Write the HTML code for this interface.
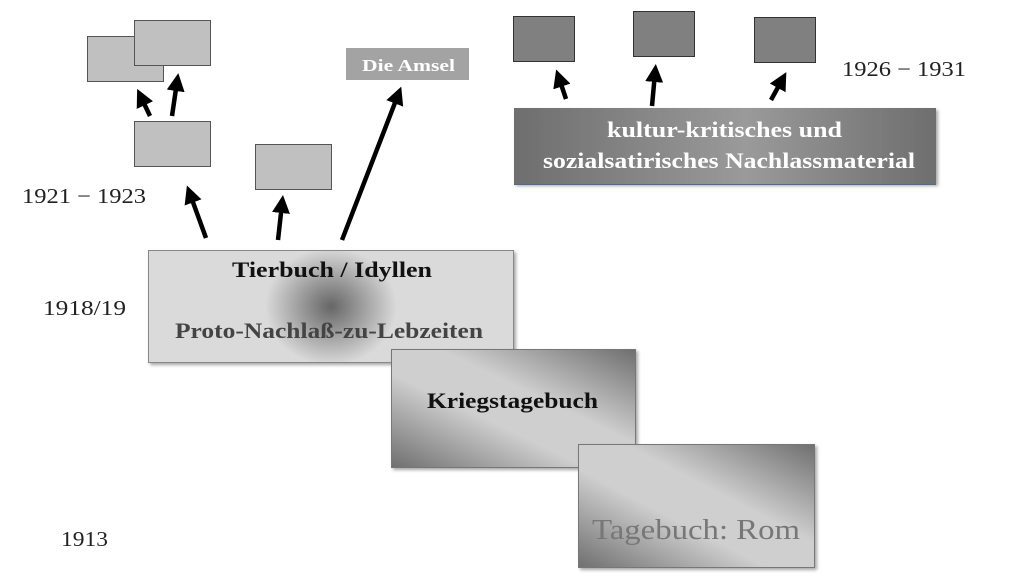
<!DOCTYPE html>
<html><head><meta charset="utf-8"><style>
html,body{margin:0;padding:0;background:#fff;width:1024px;height:576px;overflow:hidden}
svg{display:block}
text{font-family:"Liberation Serif",serif}
</style></head><body>
<svg width="1024" height="576" viewBox="0 0 1024 576" xmlns="http://www.w3.org/2000/svg">
<defs>
<radialGradient id="rg" cx="0.5" cy="0.5" r="0.5" gradientUnits="objectBoundingBox" gradientTransform="translate(0.5 0.5) scale(0.36 1.05) translate(-0.5 -0.5)">
<stop offset="0" stop-color="#666"/><stop offset="1" stop-color="#dadada"/></radialGradient>
<linearGradient id="dg" x1="0" y1="1" x2="1" y2="0">
<stop offset="0" stop-color="#6f6f6f"/><stop offset="0.4" stop-color="#cfcfcf"/><stop offset="0.6" stop-color="#cfcfcf"/><stop offset="1" stop-color="#6f6f6f"/></linearGradient>
<linearGradient id="bg" x1="0" y1="0" x2="1" y2="0">
<stop offset="0" stop-color="#6e6e6e"/><stop offset="0.55" stop-color="#9a9a9a"/><stop offset="1" stop-color="#6e6e6e"/></linearGradient>
<marker id="ah" markerWidth="4" markerHeight="4" refX="2" refY="2" orient="auto" markerUnits="strokeWidth"><path d="M0,0 L4,2 L0,4 z" fill="#000"/></marker>
<filter id="sh" x="-5%" y="-5%" width="115%" height="120%"><feDropShadow dx="2" dy="2" stdDeviation="1.5" flood-color="#000" flood-opacity="0.35"/></filter>
</defs>

<rect x="87.5" y="36.5" width="76" height="45" fill="#c0c0c0" stroke="#555"/>
<rect x="134.5" y="20.5" width="76" height="45" fill="#c0c0c0" stroke="#555"/>
<rect x="134.5" y="121.5" width="76" height="45" fill="#c0c0c0" stroke="#555"/>
<rect x="255.5" y="144.5" width="76" height="45" fill="#c0c0c0" stroke="#555"/>
<rect x="346" y="48" width="123" height="32" fill="#a3a3a3"/>
<text x="362" y="71" font-size="17" font-weight="bold" fill="#fff" textLength="93" lengthAdjust="spacingAndGlyphs">Die Amsel</text>

<rect x="513.5" y="16.5" width="61" height="45" fill="#808080" stroke="#333"/>
<rect x="633.5" y="11.5" width="61" height="45" fill="#808080" stroke="#333"/>
<rect x="754.5" y="17.5" width="61" height="45" fill="#808080" stroke="#333"/>

<rect x="514" y="108" width="422" height="76" fill="url(#bg)" filter="url(#sh)"/>
<line x1="514" y1="184.5" x2="936" y2="184.5" stroke="#4a6a9a" stroke-width="1"/>
<text x="607" y="137" font-size="22" font-weight="bold" fill="#fff" textLength="235" lengthAdjust="spacingAndGlyphs">kultur-kritisches und</text>
<text x="543" y="168" font-size="22" font-weight="bold" fill="#fff" textLength="372" lengthAdjust="spacingAndGlyphs">sozialsatirisches Nachlassmaterial</text>

<g stroke="#000" stroke-width="4.5" fill="none" marker-end="url(#ah)">
<line x1="206" y1="238" x2="190" y2="194"/>
<line x1="278" y1="240" x2="282" y2="204"/>
<line x1="342" y1="240" x2="398" y2="95"/>
<line x1="150" y1="116" x2="141" y2="97"/>
<line x1="172" y1="116" x2="177" y2="82"/>
<line x1="566" y1="99" x2="559" y2="78"/>
<line x1="652" y1="106" x2="655" y2="73"/>
<line x1="771" y1="100" x2="782" y2="80"/>
</g>

<rect x="148.5" y="250.5" width="365" height="112" fill="url(#rg)" stroke="#888" filter="url(#sh)"/>
<text x="232" y="277" font-size="22" font-weight="bold" fill="#111" textLength="200" lengthAdjust="spacingAndGlyphs">Tierbuch / Idyllen</text>
<text x="175" y="338" font-size="22" font-weight="bold" fill="#444" textLength="308" lengthAdjust="spacingAndGlyphs">Proto-Nachlaß-zu-Lebzeiten</text>

<rect x="391.5" y="349.5" width="244" height="118" fill="url(#dg)" stroke="#777" filter="url(#sh)"/>
<text x="427" y="408" font-size="22" font-weight="bold" fill="#111" textLength="171" lengthAdjust="spacingAndGlyphs">Kriegstagebuch</text>

<rect x="578.5" y="444.5" width="236" height="123" fill="url(#dg)" stroke="#777" filter="url(#sh)"/>
<text x="592" y="539" font-size="29" fill="#777" textLength="208" lengthAdjust="spacingAndGlyphs">Tagebuch: Rom</text>

<g font-size="21" fill="#222">
<text x="22" y="203" textLength="124" lengthAdjust="spacingAndGlyphs">1921 − 1923</text>
<text x="43" y="315" textLength="83" lengthAdjust="spacingAndGlyphs">1918/19</text>
<text x="61" y="546" textLength="47" lengthAdjust="spacingAndGlyphs">1913</text>
<text x="842" y="76" textLength="124" lengthAdjust="spacingAndGlyphs">1926 − 1931</text>
</g>
</svg>
</body></html>
